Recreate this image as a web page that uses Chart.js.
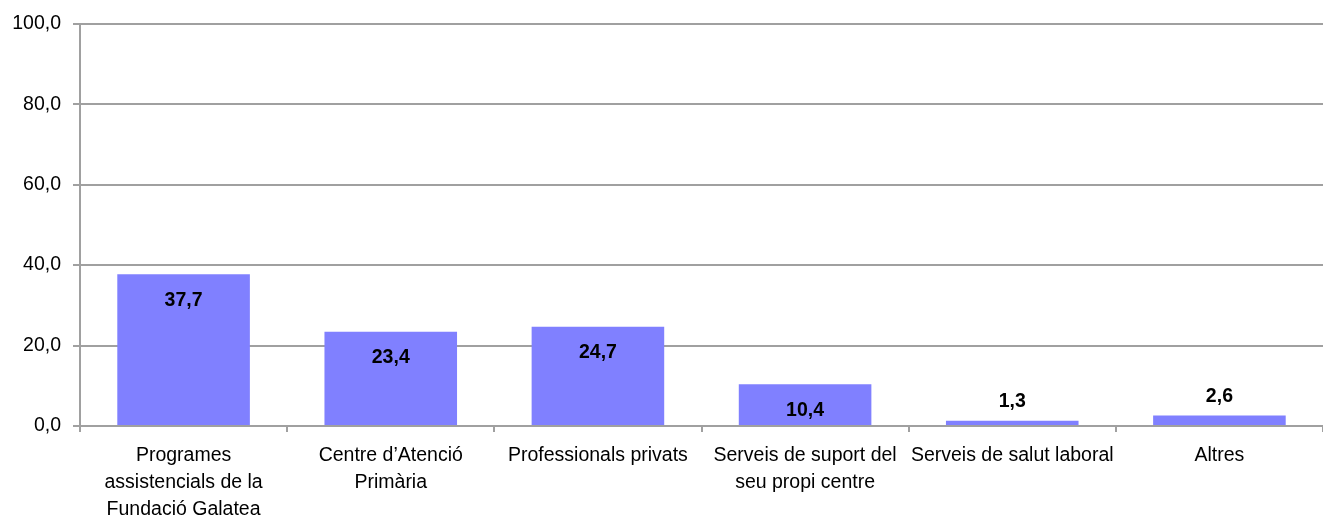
<!DOCTYPE html>
<html>
<head>
<meta charset="utf-8">
<script src="https://cdn.jsdelivr.net/npm/chart.js@4"></script>
<style>
  html, body { margin: 0; padding: 0; background: #fff; }
  #wrap { width: 1323px; height: 519px; }
</style>
</head>
<body>
<div id="wrap"><canvas id="myChart" width="1323" height="519"></canvas></div>
<script>
// Categories (multi-line labels as arrays)
const categories = [
    ['Programes', 'assistencials de la', 'Fundació Galatea'],
    ['Centre d\u2019Atenció', 'Primària'],
    'Professionals privats',
    ['Serveis de suport del', 'seu propi centre'],
    'Serveis de salut laboral',
    'Altres'
];
// Percentages
const values = [37.7, 23.4, 24.7, 10.4, 1.3, 2.6];
const yTicks = [0, 20, 40, 60, 80, 100];

const fontFamily = '"Liberation Sans", Arial, sans-serif';

// Draw value labels: inside the bar near top if room, otherwise above it
const valueLabels = {
    id: 'valueLabels',
    afterDatasetsDraw(chart) {
        const ctx = chart.ctx;
        const meta = chart.getDatasetMeta(0);
        ctx.save();
        ctx.font = 'bold 19.5px ' + fontFamily;
        ctx.fillStyle = '#000';
        ctx.textAlign = 'center';
        ctx.textBaseline = 'middle';
        meta.data.forEach((bar, i) => {
            const text = values[i].toFixed(1).replace('.', ',');
            const h = bar.base - bar.y;
            const y = h > 35 ? bar.y + 26 : bar.y - 19;
            ctx.fillText(text, bar.x, y);
        });
        ctx.restore();
    }
};

new Chart(document.getElementById('myChart').getContext('2d'), {
    type: 'bar',
    data: {
        labels: categories,
        datasets: [{
            data: values,
            backgroundColor: '#8080ff',
            borderWidth: 0,
            categoryPercentage: 0.64,
            barPercentage: 1.0
        }]
    },
    options: {
        responsive: false,
        animation: false,
        layout: { padding: { top: 21, right: 0, left: 0, bottom: 0 } },
        plugins: {
            legend: { display: false },
            tooltip: { enabled: false }
        },
        scales: {
            x: {
                grid: {
                    offset: true,
                    drawOnChartArea: false,
                    color: '#a0a0a0',
                    lineWidth: 2,
                    tickLength: 6
                },
                border: { color: '#a0a0a0', width: 2 },
                ticks: {
                    color: '#000',
                    font: { family: fontFamily, size: 19.5, lineHeight: 1.38 },
                    maxRotation: 0,
                    autoSkip: false,
                    padding: 10
                },
                afterFit(scale) { scale.height = 93; }
            },
            y: {
                min: 0,
                max: 100,
                afterBuildTicks(scale) {
                    scale.ticks = yTicks.map(v => ({ value: v }));
                },
                grid: {
                    color: '#a0a0a0',
                    lineWidth: 2,
                    tickLength: 7
                },
                border: { color: '#a0a0a0', width: 2 },
                ticks: {
                    color: '#000',
                    font: { family: fontFamily, size: 19.5 },
                    padding: 12,
                    callback: v => v.toFixed(1).replace('.', ',')
                },
                afterFit(scale) { scale.width = 80; }
            }
        }
    },
    plugins: [valueLabels]
});
</script>
</body>
</html>
